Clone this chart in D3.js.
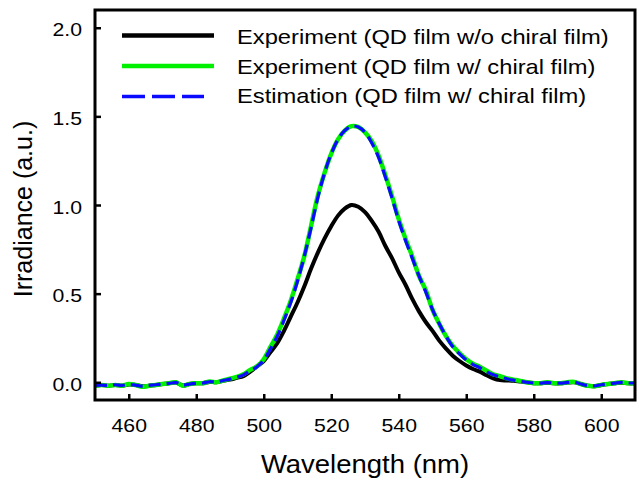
<!DOCTYPE html>
<html>
<head>
<meta charset="utf-8">
<script src="https://cdn.jsdelivr.net/npm/d3@7"></script>
<style>
  body { margin: 0; background: #fff; }
  text { font-family: "Liberation Sans", Arial, sans-serif; fill: #000; }
</style>
</head>
<body>
<div id="chart"></div>
<script>
// Wavelength grid (nm)
const wavelength = d3.range(450, 611, 2);

// Experiment (QD film w/o chiral film)
const expNoChiral = [
  -0.02, -0.015, -0.02, -0.015, -0.02, -0.012, -0.015, -0.022, -0.02, -0.015,
  -0.01, -0.005, -0.002, -0.018, -0.01, -0.006, -0.005, 0.002, 0.0, 0.008,
  0.015, 0.025, 0.035, 0.06, 0.09, 0.12, 0.17, 0.22, 0.29, 0.37,
  0.45, 0.54, 0.64, 0.73, 0.81, 0.88, 0.94, 0.98, 1.0, 0.99,
  0.96, 0.91, 0.85, 0.77, 0.7, 0.62, 0.55, 0.47, 0.4, 0.34,
  0.29, 0.235, 0.19, 0.15, 0.12, 0.095, 0.075, 0.06, 0.04, 0.022,
  0.012, 0.01, 0.008, 0.004, 0.0, -0.005, -0.006, -0.002, -0.006, -0.006,
  -0.002, 0.0, -0.01, -0.02, -0.022, -0.015, -0.01, -0.006, -0.002, -0.006, -0.006
];

// Experiment (QD film w/ chiral film)
const expChiral = [
  -0.02, -0.015, -0.02, -0.015, -0.02, -0.01, -0.015, -0.025, -0.02, -0.015,
  -0.01, -0.005, 0.0, -0.02, -0.01, -0.005, -0.005, 0.005, 0.0, 0.01,
  0.02, 0.03, 0.045, 0.07, 0.09, 0.13, 0.2, 0.27, 0.36, 0.46,
  0.58, 0.71, 0.88, 1.05, 1.18, 1.29, 1.37, 1.42, 1.445, 1.44,
  1.41, 1.36, 1.28, 1.17, 1.05, 0.92, 0.81, 0.71, 0.6, 0.52,
  0.41, 0.33, 0.26, 0.205, 0.165, 0.13, 0.105, 0.088, 0.065, 0.045,
  0.035, 0.022, 0.015, 0.008, 0.0, -0.005, -0.005, 0.0, -0.005, -0.005,
  0.0, 0.002, -0.01, -0.02, -0.022, -0.015, -0.01, -0.005, 0.0, -0.005, -0.005
];

// Estimation (QD film w/ chiral film)
const estChiral = [
  -0.018, -0.016, -0.018, -0.014, -0.018, -0.012, -0.016, -0.022, -0.018, -0.014,
  -0.01, -0.006, -0.002, -0.016, -0.01, -0.006, -0.004, 0.003, 0.002, 0.01,
  0.018, 0.028, 0.042, 0.065, 0.088, 0.125, 0.19, 0.26, 0.35, 0.45,
  0.57, 0.71, 0.87, 1.04, 1.18, 1.29, 1.37, 1.42, 1.445, 1.44,
  1.41, 1.35, 1.27, 1.16, 1.04, 0.91, 0.8, 0.7, 0.6, 0.51,
  0.41, 0.33, 0.26, 0.2, 0.16, 0.125, 0.1, 0.082, 0.06, 0.042,
  0.03, 0.02, 0.012, 0.006, 0.0, -0.004, -0.005, -0.002, -0.004, -0.005,
  -0.001, 0.0, -0.01, -0.018, -0.02, -0.014, -0.01, -0.005, -0.001, -0.004, -0.004
];

const xTicks = [460, 480, 500, 520, 540, 560, 580, 600];
const yTicks = [0, 0.5, 1.0, 1.5, 2.0];

const series = [
  { name: "Experiment (QD film w/o chiral film)", values: expNoChiral, color: "#000000", width: 4, dash: null },
  { name: "Experiment (QD film w/ chiral film)", values: expChiral, color: "#00f000", width: 4.5, dash: null },
  { name: "Estimation (QD film w/ chiral film)", values: estChiral, color: "#0a0aff", width: 3.2, dash: "12,6" }
];

const width = 639, height = 482;
const plotLeft = 95, plotRight = 635, plotTop = 10, plotBottom = 400;

const svg = d3.select("#chart").append("svg")
  .attr("width", width)
  .attr("height", height);

const x = d3.scaleLinear().domain([450, 610]).range([plotLeft, plotRight]);
const y = d3.scaleLinear().domain([-0.1, 2.1]).range([plotBottom, plotTop]);

svg.append("clipPath").attr("id", "clip")
  .append("rect")
  .attr("x", plotLeft).attr("y", plotTop)
  .attr("width", plotRight - plotLeft).attr("height", plotBottom - plotTop);

// lines
const line = d3.line()
  .x((d, i) => x(wavelength[i]))
  .y(d => y(d))
  .curve(d3.curveCatmullRom);

const lineGroup = svg.append("g").attr("clip-path", "url(#clip)");
series.forEach(s => {
  lineGroup.append("path")
    .datum(s.values)
    .attr("d", line)
    .attr("fill", "none")
    .attr("stroke", s.color)
    .attr("stroke-width", s.width)
    .attr("stroke-dasharray", s.dash)
    .attr("stroke-linejoin", "round");
});

// frame
svg.append("rect")
  .attr("x", plotLeft).attr("y", plotTop)
  .attr("width", plotRight - plotLeft).attr("height", plotBottom - plotTop)
  .attr("fill", "none")
  .attr("stroke", "#000")
  .attr("stroke-width", 3);

// axes (inward ticks)
const xAxis = d3.axisBottom(x).tickValues(xTicks).tickSize(-6).tickPadding(19);
const yAxis = d3.axisLeft(y).tickValues(yTicks).tickSize(-6).tickPadding(11)
  .tickFormat(d3.format(".1f"));

const gx = svg.append("g").attr("transform", `translate(0,${plotBottom})`).call(xAxis);
const gy = svg.append("g").attr("transform", `translate(${plotLeft},0)`).call(yAxis);

[gx, gy].forEach(g => {
  g.select(".domain").remove();
  g.selectAll(".tick line").attr("stroke", "#000").attr("stroke-width", 2.5);
  g.selectAll(".tick text")
    .style("font-size", "18px")
    .attr("fill", "#000")
    .attr("transform", "scale(1.18,1)");
});
gy.selectAll(".tick text").attr("dy", "0.45em");

// axis titles
svg.append("text")
  .attr("transform", `translate(${(plotLeft + plotRight) / 2},473) scale(1.1,1)`)
  .attr("text-anchor", "middle")
  .style("font-size", "25px")
  .text("Wavelength (nm)");

svg.append("text")
  .attr("transform", `translate(32,209) rotate(-90)`)
  .attr("text-anchor", "middle")
  .style("font-size", "25px")
  .text("Irradiance (a.u.)");

// legend
const legend = svg.append("g");
series.forEach((s, i) => {
  const ly = 35.5 + i * 30.5;
  legend.append("line")
    .attr("x1", 122).attr("x2", s.dash ? 204 : 214)
    .attr("y1", ly).attr("y2", ly)
    .attr("stroke", s.color)
    .attr("stroke-width", s.dash ? 3.5 : 4.5)
    .attr("stroke-dasharray", s.dash ? "23,7" : null);
  legend.append("text")
    .attr("transform", `translate(237,${44 + i * 29.5}) scale(1.13,1)`)
    .style("font-size", "21px")
    .text(s.name);
});
</script>
</body>
</html>
